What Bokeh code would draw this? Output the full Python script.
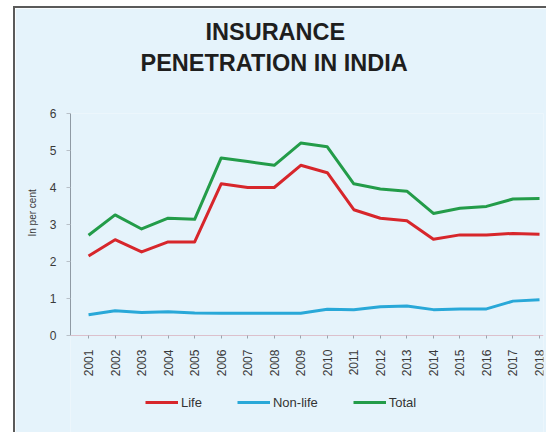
from bokeh.plotting import figure
from bokeh.models import Title, Legend, LegendItem, FixedTicker, Range1d
from bokeh.embed import file_html
from bokeh.resources import INLINE

years = list(range(2001, 2019))
life = [2.15, 2.59, 2.26, 2.53, 2.53, 4.10, 4.00, 4.00, 4.60, 4.40, 3.40, 3.17, 3.10, 2.60, 2.72, 2.72, 2.76, 2.74]
non_life = [0.56, 0.67, 0.62, 0.64, 0.61, 0.60, 0.60, 0.60, 0.60, 0.71, 0.70, 0.78, 0.80, 0.70, 0.72, 0.72, 0.93, 0.97]
total = [2.71, 3.26, 2.88, 3.17, 3.14, 4.80, 4.70, 4.60, 5.20, 5.10, 4.10, 3.96, 3.90, 3.30, 3.44, 3.49, 3.69, 3.70]
y_ticks = [0, 1, 2, 3, 4, 5, 6]
series_names = ["Life", "Non-life", "Total"]
colors = ["#d7262b", "#29a8d8", "#239c49"]

BG = "#e5f3fb"
FONT = "Liberation Sans"

# the frame extends below y=0 so that the x axis (fixed at 0) and the legend sit inside it
p = figure(frame_width=473, frame_height=319, output_backend="svg", toolbar_location=None,
           x_range=Range1d(2000.32, 2018.15), y_range=Range1d(-2.62, 6),
           min_border_left=54, min_border_right=4, min_border_top=105, min_border_bottom=0)
p.title = None
p.background_fill_color = BG
p.border_fill_color = BG
p.outline_line_color = None
p.grid.visible = False
p.styles = {"margin-left": "13px", "margin-top": "6px",
            "border-left": "2px solid #5a5a5a", "border-top": "2px solid #5a5a5a"}

spacer = Title(text=" ", text_font=FONT, text_font_size="10px", standoff=25)
t2 = Title(text="PENETRATION IN INDIA", align="left", text_font=FONT,
           text_font_size="23.5px", text_font_style="bold", text_color="#1e1e1e",
           offset=70, standoff=0)
t1 = Title(text="INSURANCE", align="left", text_font=FONT,
           text_font_size="23.5px", text_font_style="bold", text_color="#1e1e1e",
           offset=135, standoff=5)
p.add_layout(spacer, "above")
p.add_layout(t2, "above")
p.add_layout(t1, "above")

renderers = []
for vals, c in zip([life, non_life, total], colors):
    r = p.line(years, vals, line_color=c, line_width=3, line_join="round")
    renderers.append(r)

p.xaxis.fixed_location = 0
p.xaxis.ticker = FixedTicker(ticks=years)
p.xaxis.major_label_orientation = 3.14159265 / 2
p.xaxis.major_label_text_font = FONT
p.xaxis.major_label_text_font_size = "12px"
p.xaxis.major_label_text_color = "#3a3a3a"
p.xaxis.major_label_standoff = 11
p.xaxis.axis_line_color = "#dcc0cc"
p.xaxis.major_tick_line_color = "#9aa4ad"
p.xaxis.major_tick_out = 3
p.xaxis.major_tick_in = 0
p.xaxis.minor_tick_line_color = None

p.yaxis.bounds = (0, 6)
p.yaxis.ticker = FixedTicker(ticks=y_ticks)
p.yaxis.major_label_text_font = FONT
p.yaxis.major_label_text_font_size = "12px"
p.yaxis.major_label_text_color = "#3a3a3a"
p.yaxis.major_label_standoff = 10
p.yaxis.axis_line_color = "#8f9aa4"
p.yaxis.major_tick_line_color = "#b8c0c8"
p.yaxis.major_tick_out = 4
p.yaxis.major_tick_in = 0
p.yaxis.minor_tick_line_color = None

ylabel = Title(text="In per cent", align="left", offset=196, standoff=18,
               text_font=FONT, text_font_size="10px", text_font_style="normal",
               text_color="#3a3a3a")
p.add_layout(ylabel, "left")

legend = Legend(items=[LegendItem(label=n, renderers=[r]) for n, r in zip(series_names, renderers)],
                orientation="horizontal", location=(75, 20),
                label_text_font=FONT, label_text_font_size="13px", label_text_color="#333333",
                glyph_width=33, label_standoff=3, spacing=35,
                background_fill_alpha=0, border_line_color=None, margin=0, padding=4)
p.add_layout(legend, "center")

open("out.html", "w").write(file_html(p, INLINE))
